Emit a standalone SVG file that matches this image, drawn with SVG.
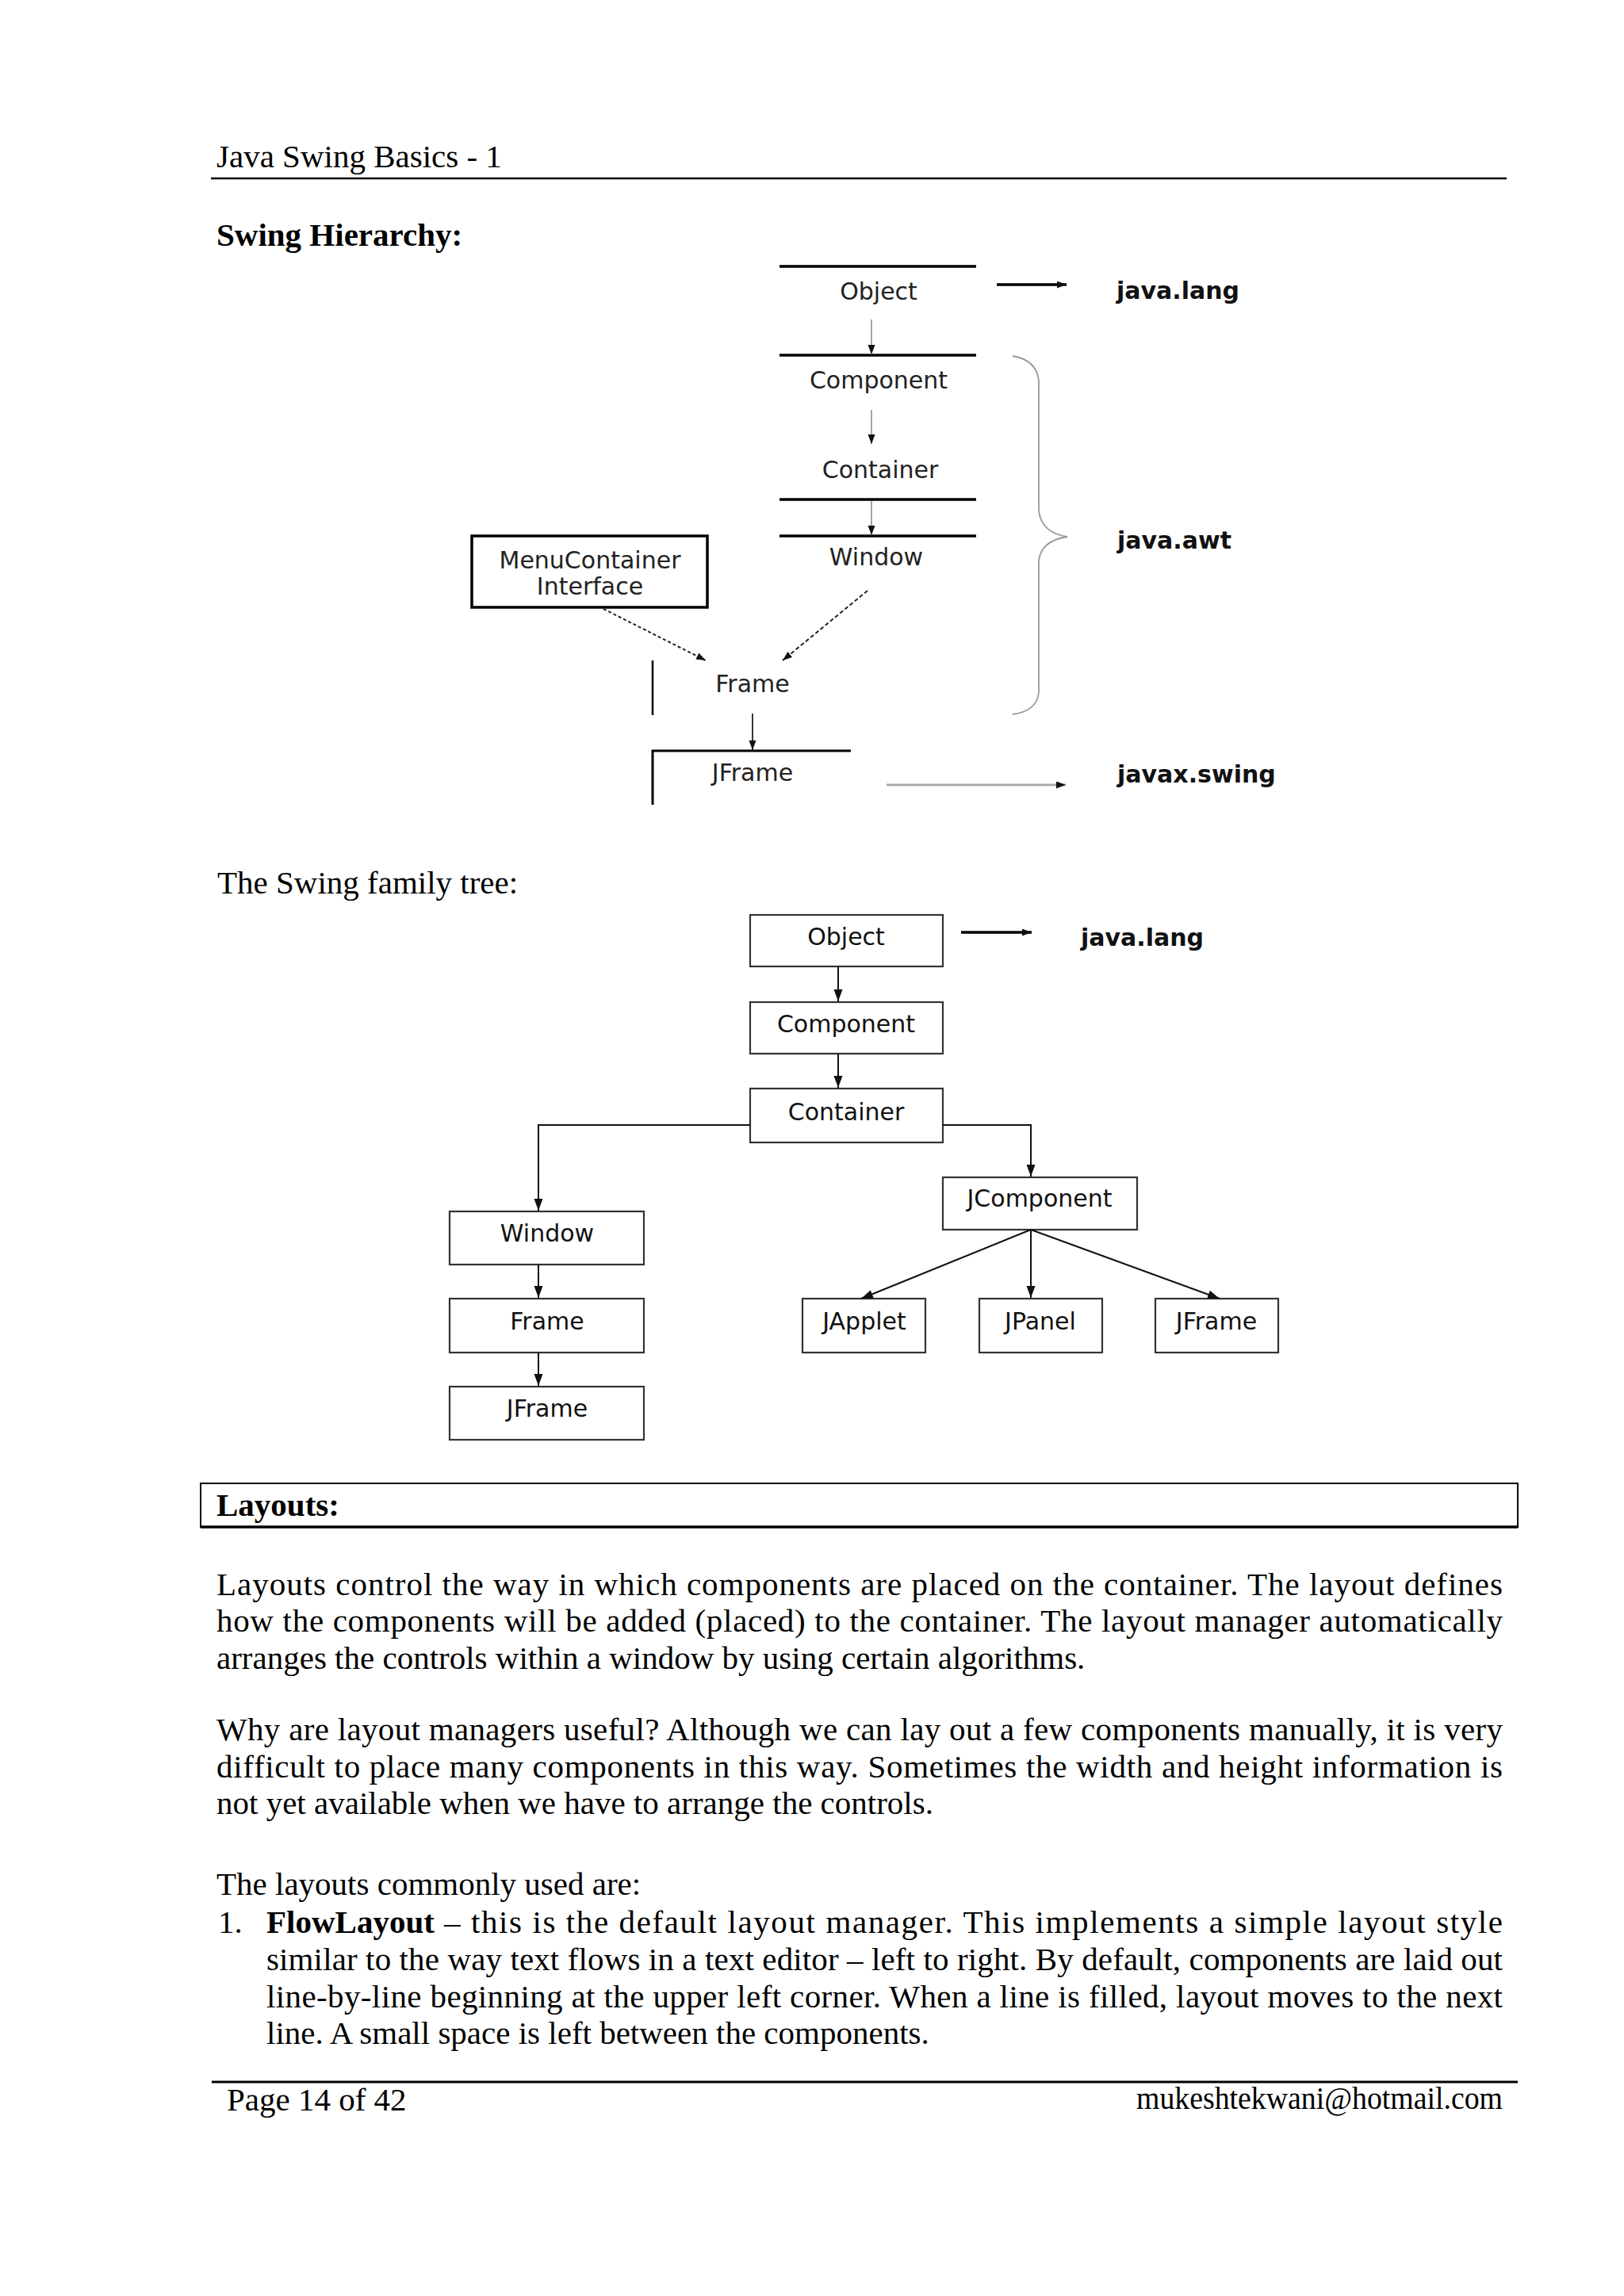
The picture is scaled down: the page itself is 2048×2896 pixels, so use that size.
<svg xmlns="http://www.w3.org/2000/svg" width="2048" height="2896" viewBox="0 0 2048 2896">
<style>
.body{font-family:"Liberation Serif","Times New Roman",serif;font-size:41px;fill:#000}
.bold{font-weight:bold}
.d1{font-family:"DejaVu Sans",Verdana,sans-serif;font-size:30px;fill:#222;text-anchor:middle}
.d2{font-family:"DejaVu Sans",Verdana,sans-serif;font-size:30px;fill:#111;text-anchor:middle}
.pkg{font-family:"DejaVu Sans",Verdana,sans-serif;font-size:30px;font-weight:bold;fill:#111}
.bar{stroke:#000;stroke-width:3.5;fill:none}
.box2{fill:#fff;stroke:#333;stroke-width:2.2}
.c2{stroke:#111;stroke-width:2;fill:none;marker-end:url(#ah2)}
.c1{stroke:#888;stroke-width:1.5;fill:none;marker-end:url(#ah1)}
</style>
<defs>
<marker id="ah2" markerUnits="userSpaceOnUse" markerWidth="16" markerHeight="12" refX="15" refY="5.5" orient="auto"><path d="M0,0 L15,5.5 L0,11 z" fill="#111"/></marker>
<marker id="ah1" markerUnits="userSpaceOnUse" markerWidth="13" markerHeight="10" refX="12" refY="4.5" orient="auto"><path d="M0,0 L12,4.5 L0,9 z" fill="#111"/></marker>
</defs>
<rect width="2048" height="2896" fill="#fff"/>

<!-- page header -->
<g id="header">
<text class="body" x="273" y="211">Java Swing Basics - 1</text>
<line x1="266" y1="225" x2="1900" y2="225" stroke="#000" stroke-width="2.5"/>
</g>
<text class="body bold" x="273" y="310">Swing Hierarchy:</text>

<!-- Diagram 1 -->
<g id="d1-object"><line class="bar" x1="983" y1="336" x2="1231" y2="336"/><text class="d1" x="1108" y="378">Object</text></g>
<g id="d1-component"><line class="bar" x1="983" y1="448" x2="1231" y2="448"/><text class="d1" x="1108" y="490">Component</text></g>
<g id="d1-container"><line class="bar" x1="983" y1="630" x2="1231" y2="630"/><text class="d1" x="1110" y="603">Container</text></g>
<g id="d1-window"><line class="bar" x1="983" y1="676" x2="1231" y2="676"/><text class="d1" x="1105" y="713">Window</text></g>
<g id="d1-menucontainer"><rect x="595" y="676" width="297" height="90" fill="#fff" stroke="#000" stroke-width="3.5"/><text class="d1" x="744" y="717" font-size="28">MenuContainer</text><text class="d1" x="744" y="750" font-size="28">Interface</text></g>
<g id="d1-frame"><line x1="823" y1="833" x2="823" y2="902" stroke="#000" stroke-width="2.5"/><text class="d1" x="949" y="873">Frame</text></g>
<g id="d1-jframe"><path d="M823,1015 L823,947 L1073,947" stroke="#000" stroke-width="3" fill="none"/><text class="d1" x="949" y="985">JFrame</text></g>
<g id="d1-javalang"><text class="pkg" x="1408" y="377">java.lang</text></g>
<g id="d1-javaawt"><text class="pkg" x="1409" y="692">java.awt</text></g>
<g id="d1-javaxswing"><text class="pkg" x="1409" y="987">javax.swing</text></g>
<g id="d1-brace"><path d="M1277,449 Q1307,454 1310,480 L1310,644 Q1313,672 1346,677 Q1313,682 1310,707 L1310,874 Q1307,897 1277,901" fill="none" stroke="#999" stroke-width="1.8"/></g>

<g id="d1-connectors">
<line x1="1257" y1="359" x2="1345" y2="359" stroke="#000" stroke-width="3.5" marker-end="url(#ah1)"/>
<line class="c1" x1="1099" y1="403" x2="1099" y2="447"/>
<line class="c1" x1="1099" y1="517" x2="1099" y2="560"/>
<line class="c1" x1="1099" y1="632" x2="1099" y2="675"/>
<line x1="761" y1="768" x2="890" y2="833" stroke="#222" stroke-width="2" stroke-dasharray="4,3" marker-end="url(#ah1)"/>
<line x1="1094" y1="745" x2="987" y2="833" stroke="#222" stroke-width="2" stroke-dasharray="5,3" marker-end="url(#ah1)"/>
<line x1="949" y1="900" x2="949" y2="946" stroke="#222" stroke-width="1.8" marker-end="url(#ah1)"/>
<line x1="1118" y1="990" x2="1344" y2="990" stroke="#aaa" stroke-width="3" marker-end="url(#ah1)"/>
</g>

<text class="body" x="274" y="1127">The Swing family tree:</text>

<!-- Diagram 2 -->
<g id="d2-object"><rect class="box2" x="946" y="1154" width="243" height="65"/><text class="d2" x="1067" y="1192">Object</text></g>
<g id="d2-component"><rect class="box2" x="946" y="1264" width="243" height="65"/><text class="d2" x="1067" y="1302">Component</text></g>
<g id="d2-container"><rect class="box2" x="946" y="1373" width="243" height="68"/><text class="d2" x="1067" y="1413">Container</text></g>
<g id="d2-jcomponent"><rect class="box2" x="1189" y="1485" width="245" height="66"/><text class="d2" x="1311" y="1522">JComponent</text></g>
<g id="d2-window"><rect class="box2" x="567" y="1528" width="245" height="67"/><text class="d2" x="690" y="1566">Window</text></g>
<g id="d2-frame"><rect class="box2" x="567" y="1638" width="245" height="68"/><text class="d2" x="690" y="1677">Frame</text></g>
<g id="d2-jframe-left"><rect class="box2" x="567" y="1749" width="245" height="67"/><text class="d2" x="690" y="1787">JFrame</text></g>
<g id="d2-japplet"><rect class="box2" x="1012" y="1638" width="155" height="68"/><text class="d2" x="1090" y="1677">JApplet</text></g>
<g id="d2-jpanel"><rect class="box2" x="1235" y="1638" width="155" height="68"/><text class="d2" x="1312" y="1677">JPanel</text></g>
<g id="d2-jframe-right"><rect class="box2" x="1457" y="1638" width="155" height="68"/><text class="d2" x="1534" y="1677">JFrame</text></g>
<g id="d2-javalang"><text class="pkg" x="1363" y="1193">java.lang</text></g>

<g id="d2-connectors">
<line x1="1212" y1="1176" x2="1301" y2="1176" stroke="#000" stroke-width="3.5" marker-end="url(#ah1)"/>
<line class="c2" x1="1057" y1="1219" x2="1057" y2="1263"/>
<line class="c2" x1="1057" y1="1329" x2="1057" y2="1372"/>
<path class="c2" d="M946,1419 L679,1419 L679,1527"/>
<path class="c2" d="M1189,1419 L1300,1419 L1300,1484"/>
<line class="c2" x1="679" y1="1595" x2="679" y2="1637"/>
<line class="c2" x1="679" y1="1706" x2="679" y2="1748"/>
<line class="c2" x1="1300" y1="1551" x2="1086" y2="1638"/>
<line class="c2" x1="1300" y1="1551" x2="1300" y2="1637"/>
<line class="c2" x1="1300" y1="1551" x2="1538" y2="1638"/>
</g>

<!-- Layouts section -->
<g id="layouts-heading">
<rect x="253" y="1871" width="1661" height="55" fill="none" stroke="#000" stroke-width="2"/>
<line x1="253" y1="1926" x2="1914" y2="1926" stroke="#000" stroke-width="3.5"/>
<text class="body bold" x="273" y="1912">Layouts:</text>
</g>
<text class="body" x="273" y="2012" textLength="1622" lengthAdjust="spacing">Layouts control the way in which components are placed on the container. The layout defines</text>
<text class="body" x="273" y="2058" textLength="1622" lengthAdjust="spacing">how the components will be added (placed) to the container. The layout manager automatically</text>
<text class="body" x="273" y="2105">arranges the controls within a window by using certain algorithms.</text>

<text class="body" x="273" y="2195" textLength="1622" lengthAdjust="spacing">Why are layout managers useful? Although we can lay out a few components manually, it is very</text>
<text class="body" x="273" y="2242" textLength="1622" lengthAdjust="spacing">difficult to place many components in this way. Sometimes the width and height information is</text>
<text class="body" x="273" y="2288">not yet available when we have to arrange the controls.</text>

<text class="body" x="273" y="2390">The layouts commonly used are:</text>
<text class="body" x="275" y="2438">1.</text>
<text class="body bold" x="336" y="2438">FlowLayout</text>
<text class="body" x="560" y="2438" textLength="1335" lengthAdjust="spacing">– this is the default layout manager. This implements a simple layout style</text>
<text class="body" x="336" y="2485" textLength="1559" lengthAdjust="spacing">similar to the way text flows in a text editor – left to right. By default, components are laid out</text>
<text class="body" x="336" y="2532" textLength="1559" lengthAdjust="spacing">line-by-line beginning at the upper left corner. When a line is filled, layout moves to the next</text>
<text class="body" x="336" y="2578">line. A small space is left between the components.</text>

<g id="footer">
<line x1="267" y1="2626" x2="1914" y2="2626" stroke="#000" stroke-width="3"/>
<text class="body" x="286" y="2662">Page 14 of 42</text>
<text class="body" x="1433" y="2660" font-size="36" textLength="462" lengthAdjust="spacingAndGlyphs">mukeshtekwani@hotmail.com</text>
</g>
</svg>
